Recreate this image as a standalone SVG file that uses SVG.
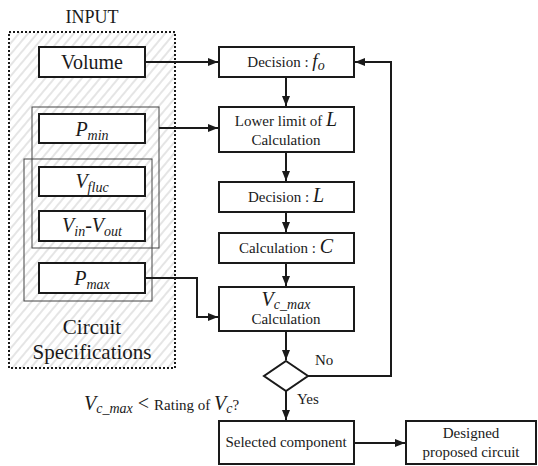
<svg xmlns="http://www.w3.org/2000/svg" width="538" height="466" viewBox="0 0 538 466">
  <defs>
    <pattern id="hatch" width="7" height="7" patternUnits="userSpaceOnUse" patternTransform="rotate(40)">
      <line x1="1" y1="0" x2="1" y2="7" stroke="#d4d4d4" stroke-width="1.2"/>
    </pattern>
    <marker id="arr" markerWidth="10" markerHeight="8" refX="10" refY="4" orient="auto" markerUnits="userSpaceOnUse">
      <path d="M0,0 L10,4 L0,8 z" fill="#1a1a1a"/>
    </marker>
  </defs>
  <style>
    text { font-family: "Liberation Serif", "Times New Roman", Times, Tinos, "Noto Serif", "DejaVu Serif", FreeSerif, serif; fill: #1a1a1a; }
    .box { fill: #fff; stroke: #1a1a1a; stroke-width: 2; }
    .thin { fill: none; stroke: #444; stroke-width: 1; }
    .i { font-style: italic; }
    .conn { fill: none; stroke: #1a1a1a; stroke-width: 2; }
  </style>
  <rect width="538" height="466" fill="#fff"/>

  <!-- input panel -->
  <g id="input-panel">
    <text x="92" y="23" font-size="18" text-anchor="middle">INPUT</text>
    <rect x="9" y="32" width="166" height="336" fill="url(#hatch)" stroke="#1a1a1a" stroke-width="2" stroke-dasharray="2,2"/>
    <rect class="thin" x="32" y="107" width="127" height="141"/>
    <rect class="thin" x="24" y="159" width="128" height="142"/>
    <text x="92" y="334" font-size="21" text-anchor="middle">Circuit</text>
    <text x="92" y="359" font-size="21" text-anchor="middle">Specifications</text>
  </g>

  <g id="volume">
    <rect class="box" x="39" y="47" width="106" height="30"/>
    <text x="92" y="69" font-size="20" text-anchor="middle">Volume</text>
  </g>
  <g id="pmin">
    <rect class="box" x="39" y="114" width="106" height="29"/>
    <text x="92" y="136" font-size="20" text-anchor="middle"><tspan class="i">P</tspan><tspan class="i" font-size="14" dy="4">min</tspan></text>
  </g>
  <g id="vfluc">
    <rect class="box" x="39" y="167" width="106" height="29"/>
    <text x="92" y="188" font-size="20" text-anchor="middle"><tspan class="i">V</tspan><tspan class="i" font-size="14" dy="4">fluc</tspan></text>
  </g>
  <g id="vin-vout">
    <rect class="box" x="39" y="211" width="106" height="30"/>
    <text x="92" y="232" font-size="20" text-anchor="middle"><tspan class="i">V</tspan><tspan class="i" font-size="14" dy="4">in</tspan><tspan dy="-4">-</tspan><tspan class="i">V</tspan><tspan class="i" font-size="14" dy="4">out</tspan></text>
  </g>
  <g id="pmax">
    <rect class="box" x="39" y="263" width="106" height="30"/>
    <text x="92" y="285" font-size="20" text-anchor="middle"><tspan class="i">P</tspan><tspan class="i" font-size="14" dy="4">max</tspan></text>
  </g>

  <!-- process column -->
  <g id="decision-fo">
    <rect class="box" x="219" y="47" width="135" height="30"/>
    <text x="286" y="67" font-size="15" text-anchor="middle">Decision : <tspan class="i" font-size="19">f</tspan><tspan class="i" font-size="14" dy="3">o</tspan></text>
  </g>
  <g id="lower-limit-l">
    <rect class="box" x="219" y="107" width="135" height="45"/>
    <text x="286" y="126" font-size="15" text-anchor="middle">Lower limit of <tspan class="i" font-size="20">L</tspan></text>
    <text x="286" y="145" font-size="15" text-anchor="middle">Calculation</text>
  </g>
  <g id="decision-l">
    <rect class="box" x="219" y="182" width="135" height="30"/>
    <text x="286" y="202" font-size="15" text-anchor="middle">Decision : <tspan class="i" font-size="20">L</tspan></text>
  </g>
  <g id="calc-c">
    <rect class="box" x="219" y="233" width="135" height="30"/>
    <text x="286" y="253" font-size="15" text-anchor="middle">Calculation : <tspan class="i" font-size="20">C</tspan></text>
  </g>
  <g id="vcmax-calc">
    <rect class="box" x="219" y="287" width="135" height="44"/>
    <text x="286" y="306" font-size="20" text-anchor="middle"><tspan class="i">V</tspan><tspan class="i" font-size="14" dy="3">c_max</tspan></text>
    <text x="286" y="324" font-size="15" text-anchor="middle">Calculation</text>
  </g>
  <g id="check">
    <path d="M286,361 L308,376 L286,391 L264,376 Z" fill="#fff" stroke="#1a1a1a" stroke-width="2"/>
    <text x="315" y="365" font-size="15">No</text>
    <text x="297" y="404" font-size="15">Yes</text>
    <text x="84" y="410" font-size="20"><tspan class="i">V</tspan><tspan class="i" font-size="14" dy="3">c_max</tspan><tspan dy="-3"> &lt; </tspan><tspan font-size="15">Rating of </tspan><tspan class="i">V</tspan><tspan class="i" font-size="14" dy="3">c</tspan><tspan font-size="15" dy="-3">?</tspan></text>
  </g>
  <g id="selected">
    <rect class="box" x="219" y="421" width="135" height="43"/>
    <text x="286" y="447" font-size="15" text-anchor="middle">Selected component</text>
  </g>
  <g id="designed">
    <rect class="box" x="406" y="421" width="130" height="43"/>
    <text x="471" y="438" font-size="15" text-anchor="middle">Designed</text>
    <text x="471" y="457" font-size="15" text-anchor="middle">proposed circuit</text>
  </g>

  <!-- connectors -->
  <g id="connectors">
    <path class="conn" d="M145,62 H218" marker-end="url(#arr)"/>
    <path class="conn" d="M159,128 H218" marker-end="url(#arr)"/>
    <path class="conn" d="M146,278 H197 V317 H218" marker-end="url(#arr)"/>
    <path class="conn" d="M286,77 V106" marker-end="url(#arr)"/>
    <path class="conn" d="M286,152 V181" marker-end="url(#arr)"/>
    <path class="conn" d="M286,212 V232" marker-end="url(#arr)"/>
    <path class="conn" d="M286,263 V286" marker-end="url(#arr)"/>
    <path class="conn" d="M286,331 V360" marker-end="url(#arr)"/>
    <path class="conn" d="M286,391 V420" marker-end="url(#arr)"/>
    <path class="conn" d="M308,376 H391 V62 H355" marker-end="url(#arr)"/>
    <path class="conn" d="M354,443 H405" marker-end="url(#arr)"/>
  </g>
</svg>
